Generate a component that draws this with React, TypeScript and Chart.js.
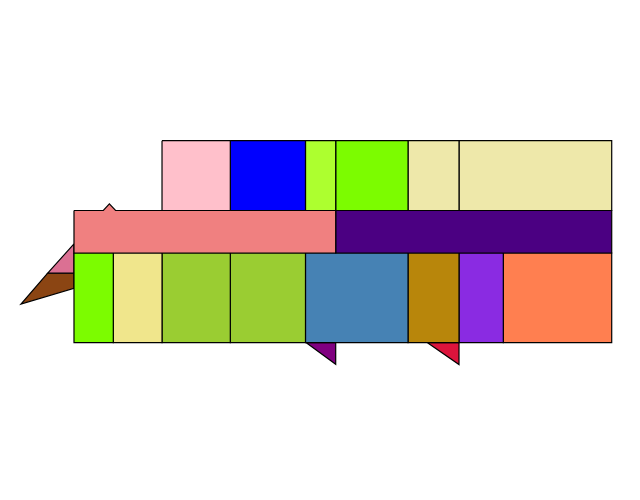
import React, { useEffect, useRef } from "react";
import { Chart, registerables } from "chart.js";

Chart.register(...registerables);

// Horizontal share (0–100) and vertical share (0–100) of each band / cell
const bandEdges = [0, 34.55, 55.6, 100]; // top band, middle band, bottom band

const topEdges = [16.37, 29.07, 43.05, 48.67, 62.12, 71.6, 100];
const topColors = ["#FFC0CB", "#0000FF", "#ADFF2F", "#7CFC00", "#EEE8AA", "#EEE8AA"];

const midEdges = [0, 48.67, 100];
const midColors = ["#F08080", "#4B0082"];
const midPeakX = [5.46, 6.58, 7.73];
const midPeakY = 31.3;

const bottomEdges = [0, 7.31, 16.37, 29.07, 43.05, 62.12, 71.6, 79.84, 100];
const bottomColors = ["#7CFC00", "#F0E68C", "#9ACD32", "#9ACD32", "#4682B4", "#B8860B", "#8A2BE2", "#FF7F50"];

// Partly hidden wedges: [x, y] vertices in the same share units
const wedgePurple = [[43.2, 100], [48.67, 100], [48.67, 110.7]];
const wedgeCrimson = [[65.74, 100], [71.6, 100], [71.6, 110.8]];
const wedgePink = [[0, 51.1], [-4.89, 65.6], [0, 65.6]];
const wedgeBrown = [[-4.89, 65.6], [0, 65.6], [0, 73.07], [-9.86, 80.84]];
const wedgeColors = ["#800080", "#DC143C", "#DB7093", "#8B4513"];

type P = { x: number; y: number };

function closed(pts: P[]): P[] {
  return [...pts, pts[0]];
}

function rect(x0: number, x1: number, y0: number, y1: number): P[] {
  return closed([
    { x: x0, y: y0 },
    { x: x1, y: y0 },
    { x: x1, y: y1 },
    { x: x0, y: y1 },
  ]);
}

function shape(data: P[], color: string) {
  return {
    data,
    showLine: true,
    fill: "shape",
    backgroundColor: color,
    borderColor: "#000000",
    borderWidth: 1.2,
    borderJoinStyle: "miter",
    pointRadius: 0,
    pointHoverRadius: 0,
    tension: 0,
  };
}

function buildDatasets() {
  const sets: any[] = [];
  // bars first in the list => drawn on top
  for (let i = 0; i < topColors.length; i++) {
    sets.push(shape(rect(topEdges[i], topEdges[i + 1], bandEdges[0], bandEdges[1]), topColors[i]));
  }
  // middle left cell with a small peak on its top edge
  const midLeft: P[] = closed([
    { x: midEdges[0], y: bandEdges[1] },
    { x: midPeakX[0], y: bandEdges[1] },
    { x: midPeakX[1], y: midPeakY },
    { x: midPeakX[2], y: bandEdges[1] },
    { x: midEdges[1], y: bandEdges[1] },
    { x: midEdges[1], y: bandEdges[2] },
    { x: midEdges[0], y: bandEdges[2] },
  ]);
  sets.push(shape(midLeft, midColors[0]));
  sets.push(shape(rect(midEdges[1], midEdges[2], bandEdges[1], bandEdges[2]), midColors[1]));
  for (let i = 0; i < bottomColors.length; i++) {
    sets.push(shape(rect(bottomEdges[i], bottomEdges[i + 1], bandEdges[2], bandEdges[3]), bottomColors[i]));
  }
  const wedges = [wedgePurple, wedgeCrimson, wedgePink, wedgeBrown];
  wedges.forEach((w, i) => {
    sets.push(shape(closed(w.map(([x, y]) => ({ x, y }))), wedgeColors[i]));
  });
  return sets;
}

export default function App() {
  const ref = useRef<HTMLCanvasElement | null>(null);
  useEffect(() => {
    if (!ref.current) return;
    const chart = new Chart(ref.current, {
      type: "scatter",
      data: { datasets: buildDatasets() },
      options: {
        animation: false,
        responsive: false,
        events: [],
        layout: { padding: 0, autoPadding: false },
        plugins: { legend: { display: false }, tooltip: { enabled: false }, title: { display: false } },
        scales: {
          x: { type: "linear", display: false, min: -13.76, max: 105.26 },
          y: { type: "linear", display: false, min: -69.65, max: 177.87, reverse: true },
        },
      } as any,
    });
    return () => chart.destroy();
  }, []);
  return (
    <div style={{ position: "fixed", left: 0, top: 0, width: 640, height: 500, background: "#fff" }}>
      <canvas ref={ref} width={640} height={500} style={{ display: "block" }} />
    </div>
  );
}
